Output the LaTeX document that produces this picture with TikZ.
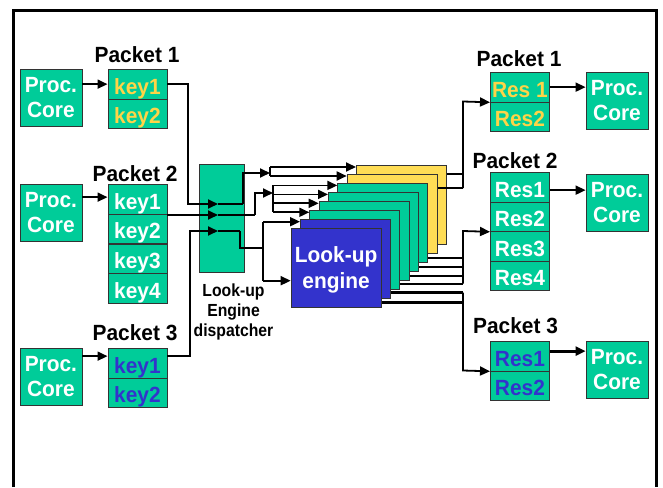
\documentclass[tikz,border=0pt]{standalone}
\usepackage{fontspec}
\setmainfont{Liberation Sans}[FakeStretch=0.95]
\newfontfamily\narrowsans{Liberation Sans}[FakeStretch=0.9]
\usetikzlibrary{arrows.meta,calc}

\definecolor{cellgreen}{HTML}{00CC99}
\definecolor{cardyellow}{HTML}{FFDD55}
\definecolor{keyyellow}{HTML}{FFD447}
\definecolor{engineblue}{HTML}{3333CC}
\definecolor{edgegray}{HTML}{333333}

\begin{document}
\begin{tikzpicture}[x=1pt,y=-1pt,
  cell/.style={draw=edgegray, line width=0.8pt, fill=cellgreen, inner sep=0pt,
    anchor=north west, font=\fontsize{22}{25}\selectfont\bfseries, text=white, align=center},
  core/.style={cell, minimum width=62pt, minimum height=57pt},
  field/.style={cell, minimum width=59pt, minimum height=29.5pt, text height=20.5pt, text depth=0pt},
  card/.style={draw=edgegray, line width=0.8pt, anchor=north west,
    minimum width=90pt, minimum height=79pt, inner sep=0pt},
  title/.style={anchor=base, inner sep=0pt, font=\fontsize{22}{25}\selectfont\bfseries},
  wire/.style={line width=1.8pt},
  heavy/.style={line width=2.8pt},
  tip/.style={-{Triangle[length=10pt,width=9pt]}},
]
\fill[white] (0,0) rectangle (663,487);
\useasboundingbox (0,0) rectangle (663,487);

% outer frame, open at the bottom
\draw[line width=3pt, line join=miter] (13.5,487) -- (13.5,10.7) -- (656.8,10.7) -- (656.8,487);

% ---------- sending cores and key fields ----------
\node[core] (pcA) at (19.5,69) {Proc.\\Core};
\node[title] (tA) at (137,63) {Packet 1};
\node[field, text=keyyellow] (kA1) at (107.5,69) {key1};
\node[field, text=keyyellow] (kA2) at (107.5,98.5) {key2};

\node[core] (pcB) at (19.5,184) {Proc.\\Core};
\node[title] (tB) at (135,181) {Packet 2};
\node[field] (kB1) at (107.5,184) {key1};
\node[field] (kB2) at (107.5,213.5) {key2};
\node[field] (kB3) at (107.5,243.5) {key3};
\node[field] (kB4) at (107.5,273) {key4};

\node[core] (pcC) at (19.5,348) {Proc.\\Core};
\node[title] (tC) at (135,340) {Packet 3};
\node[field, text=engineblue] (kC1) at (107.5,348) {key1};
\node[field, text=engineblue] (kC2) at (107.5,377.5) {key2};

% ---------- dispatcher ----------
\node[cell, minimum width=45pt, minimum height=107.5pt] (disp) at (199,164) {};
\node[anchor=north, inner sep=0pt, align=center,
  font=\narrowsans\bfseries\fontsize{17.5}{20}\selectfont] (dlab) at (233.5,284) {Look-up\\Engine\\dispatcher};

% ---------- stack of look-up engines, back to front ----------
\node[card, fill=cardyellow] (cY1) at (356,165) {};
\node[card, fill=cardyellow] (cY2) at (346.7,174) {};
\node[card, fill=cellgreen] (cG1) at (337.3,182.9) {};
\node[card, fill=cellgreen] (cG2) at (328,191.9) {};
\node[card, fill=cellgreen] (cG3) at (318.7,200.8) {};
\node[card, fill=cellgreen] (cG4) at (309.3,209.8) {};
\node[card, fill=engineblue] (cB1) at (300,218.7) {};
\node[card, fill=engineblue] (cB2) at (290.7,227.7) {};
\node[text=white, align=center, inner sep=0pt, font=\fontsize{22}{26}\selectfont\bfseries]
  (engLabel) at ([yshift=-2pt]cB2.center) {Look-up\\engine};

% ---------- result fields and receiving cores ----------
\node[title] (tD) at (519,66.7) {Packet 1};
\node[field, text=keyyellow] (rA1) at (490,72) {Res 1};
\node[field, text=keyyellow] (rA2) at (490,101.5) {Res2};
\node[core] (pcD) at (585.6,72) {Proc.\\Core};

\node[title] (tE) at (515,168) {Packet 2};
\node[field] (rB1) at (490,172) {Res1};
\node[field] (rB2) at (490,201.5) {Res2};
\node[field] (rB3) at (490,231) {Res3};
\node[field] (rB4) at (490,260.5) {Res4};
\node[core] (pcE) at (585.6,174) {Proc.\\Core};

\node[title] (tF) at (515.5,333) {Packet 3};
\node[field, text=engineblue] (rC1) at (490,341) {Res1};
\node[field, text=engineblue] (rC2) at (490,370.5) {Res2};
\node[core] (pcF) at (585.6,341) {Proc.\\Core};

% ---------- cores to key fields ----------
\coordinate (aB) at ([yshift=2pt]kB1.west);
\coordinate (aC) at ([yshift=7pt]kC1.west);
\draw[wire,tip] (pcA.east |- kA1.west) -- (kA1.west);
\draw[wire,tip] (pcB.east |- aB) -- (aB);
\draw[wire,tip] (pcC.east |- aC) -- (aC);

% ---------- keys into the dispatcher ----------
\coordinate (inA) at (218,204);
\coordinate (inB) at (218,215);
\coordinate (inC) at (218,231);
\coordinate (jA) at (188,204);
\coordinate (jC) at (190,231);
\coordinate (sB) at ([yshift=-1.5pt]kB2.north east);
\coordinate (sC) at ([yshift=7.5pt]kC1.east);
\draw[wire,tip] (kA1.east) -| (jA) -- (inA);
\draw[wire,tip] (sB) -- (inB);
\draw[wire,tip] (sC) -| (jC) -- (inC);

% ---------- dispatcher to the engines ----------
\coordinate (oA) at (243,173);
\coordinate (fA) at (270,173);
\coordinate (oB) at (255,193);
\coordinate (fB) at (273,193);
\coordinate (oC) at (240,231);
\coordinate (fC) at (263,248);

\coordinate (tY1) at ([yshift=-2pt]cY1.north west);
\coordinate (tY2) at ([yshift=-2pt]cY2.north west);
\coordinate (tG1) at ([yshift=-2.5pt]cG1.north west);
\coordinate (tG2) at ([yshift=-2.5pt]cG2.north west);
\coordinate (tG3) at ([yshift=-2.5pt]cG3.north west);
\coordinate (tG4) at ([yshift=-2.5pt]cG4.north west);
\coordinate (tB1) at ([yshift=-3pt]cB1.north west);
\coordinate (tB2) at ([yshift=-53pt]cB2.north west);

\draw[heavy] (inA) -- (inA -| oA);
\draw[wire,tip] (inA -| oA) -- (oA) -- (fA);
\draw[wire] (tY1 -| fA) -- (tY2 -| fA);
\draw[wire,tip] (tY1 -| fA) -- (tY1);
\draw[wire,tip] (tY2 -| fA) -- (tY2);

\draw[heavy] (inB) -- (inB -| oB);
\draw[wire,tip] (inB -| oB) -- (oB) -- (fB);
\draw[wire] (tG1 -| fB) -- (tG4 -| fB);
\foreach \c in {tG1,tG2,tG3,tG4}
  \draw[wire,tip] (\c -| fB) -- (\c);

\draw[heavy] (inC) -- (oC);
\draw[wire] (oC) |- (fC);
\draw[wire] (tB1 -| fC) -- (tB2 -| fC);
\draw[wire,tip] (tB1 -| fC) -- (tB1);
\draw[wire,tip] (tB2 -| fC) -- (tB2);

% ---------- engines to the result fields ----------
\coordinate (busA) at (463,101.5);
\coordinate (busB) at (463,231);
\coordinate (busC) at (463,370.5);

\coordinate (oY1) at ([yshift=-9pt]cY1.north east);
\coordinate (oY2) at ([yshift=-14pt]cY2.north east);
\draw[heavy] (oY1) -- (oY1 -| busA);
\draw[heavy] (oY2) -- (oY2 -| busA);
\draw[wire,tip] (oY2 -| busA) -- (busA) -- (rA1.south west);

\coordinate (oG1) at ([yshift=5pt]cG1.south east);
\coordinate (oG2) at ([yshift=5pt]cG2.south east);
\coordinate (oG3) at ([yshift=5pt]cG3.south east);
\coordinate (oG4) at ([yshift=6pt]cG4.south east);
\foreach \c in {oG1,oG2,oG3,oG4}
  \draw[wire] (\c) -- (\c -| busB);
\draw[wire,tip] (oG4 -| busB) -- (busB) -- (rB2.south west);

\coordinate (oB1) at ([yshift=6pt]cB1.south east);
\coordinate (oB2) at ([yshift=5pt]cB2.south east);
\draw[heavy] (oB1) -- (oB1 -| busC);
\draw[heavy] (oB2) -- (oB2 -| busC);
\draw[wire,tip] (oB1 -| busC) -- (busC) -- (rC1.south west);

% ---------- result fields to cores ----------
\coordinate (eB) at ([yshift=-3pt]rB1.east);
\coordinate (eC) at ([yshift=5pt]rC1.east);
\draw[wire,tip] (rA1.east) -- (rA1.east -| pcD.west);
\draw[wire,tip] (eB) -- (eB -| pcE.west);
\draw[heavy,tip] (eC) -- (eC -| pcF.west);
\end{tikzpicture}
\end{document}
